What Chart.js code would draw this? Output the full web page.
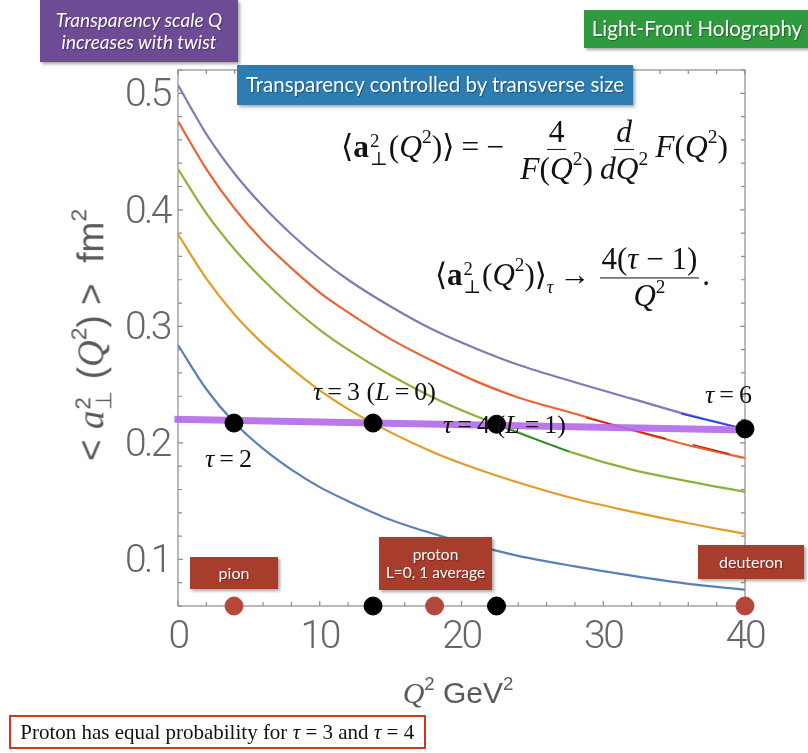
<!DOCTYPE html>
<html><head><meta charset="utf-8">
<script src="https://cdn.jsdelivr.net/npm/chart.js@4/dist/chart.umd.min.js"></script>
<style>
html,body{margin:0;padding:0;background:#fff;}
#wrap{position:relative;width:808px;height:753px;overflow:hidden;}
#c{position:absolute;left:0;top:0;}
.ann{position:absolute;white-space:nowrap;transform:translateY(-50%);}
.math{font-family:"Liberation Serif","DejaVu Serif",serif;color:#111;}
.frac{display:inline-flex;flex-direction:column;align-items:center;vertical-align:middle;line-height:1.05;margin:0 3px;}
.frac>span:first-child{border-bottom:1.3px solid #111;padding:0 2px 1px 2px;}
.frac>span:last-child{padding-top:2px;}
.ss{display:inline-flex;flex-direction:column;font-size:0.6em;line-height:0.95;vertical-align:middle;margin:0 1px;}
sup{font-size:0.62em;vertical-align:0.72em;line-height:0;}
.op{margin:0 7px;}
.box{position:absolute;color:#fff;font-family:Lato,"Open Sans",sans-serif;box-shadow:2px 2px 3px rgba(0,0,0,0.35);display:flex;flex-direction:column;align-items:center;justify-content:center;text-align:center;text-shadow:1px 1px 1px rgba(0,0,0,0.35);line-height:1.15;}
.gray{color:#5a5a5a;}
</style></head>
<body><div id="wrap">
<canvas id="c" width="808" height="753"></canvas>

<div class="box" style="left:40px;top:0;width:198px;height:62px;background:#6e4b95;font-style:italic;font-size:19px;">Transparency scale Q<br>increases with twist</div>
<div class="box" style="left:584px;top:10px;width:226px;height:38px;background:#2f9a3e;font-size:20.5px;">Light-Front Holography</div>
<div class="box" style="left:237px;top:65px;width:396px;height:40px;background:#2d7db2;font-size:20.5px;">Transparency controlled by transverse size</div>
<div class="box" style="left:190px;top:557px;width:88px;height:32px;background:#a83c2d;font-size:16px;">pion</div>
<div class="box" style="left:379px;top:537px;width:113px;height:53px;background:#a83c2d;font-size:15.5px;">proton<br>L=0, 1 average</div>
<div class="box" style="left:698px;top:545px;width:106px;height:34px;background:#a83c2d;font-size:16px;">deuteron</div>

<div class="ann math" style="left:341px;top:150px;font-size:31.5px;">⟨<b>a</b><span class="ss"><span>2</span><span>⊥</span></span>(<i>Q</i><sup>2</sup>)⟩<span class="op">=</span>−<span class="frac" style="margin-left:16px"><span>4</span><span><i>F</i>(<i>Q</i><sup>2</sup>)</span></span><span class="frac" style="margin-left:4px"><span><i>d</i></span><span><i>dQ</i><sup>2</sup></span></span><span style="margin-left:4px"><i>F</i>(<i>Q</i><sup>2</sup>)</span></div>
<div class="ann math" style="left:435px;top:278px;font-size:31px;">⟨<b>a</b><span class="ss"><span>2</span><span>⊥</span></span>(<i>Q</i><sup>2</sup>)⟩<span style="font-size:0.6em;vertical-align:-0.4em"><i>τ</i></span><span class="op" style="margin:0 6px">→</span><span class="frac"><span>4(<i>τ</i> − 1)</span><span><i>Q</i><sup>2</sup></span></span>.</div>

<div class="ann math" style="left:205px;top:459px;font-size:26px;"><i>τ</i><span class="op" style="margin:0 5px">=</span>2</div>
<div class="ann math" style="left:313px;top:392px;font-size:26px;"><i>τ</i><span class="op" style="margin:0 5px">=</span>3 (<i>L</i><span class="op" style="margin:0 5px">=</span>0)</div>
<div class="ann math" style="left:443px;top:425px;font-size:26px;"><i>τ</i><span class="op" style="margin:0 5px">=</span>4 (<i>L</i><span class="op" style="margin:0 5px">=</span>1)</div>
<div class="ann math" style="left:705px;top:395px;font-size:26px;"><i>τ</i><span class="op" style="margin:0 5px">=</span>6</div>

<div class="gray" style="position:absolute;left:92px;top:335px;transform:translate(-50%,-50%) rotate(-90deg);white-space:nowrap;font-family:'Liberation Sans',sans-serif;font-size:37px;">&lt; <i style="font-family:'Liberation Serif',serif">a</i><span class="ss"><span>2</span><span>⊥</span></span> (<i style="font-family:'Liberation Serif',serif">Q</i><sup>2</sup>) &gt;&nbsp; fm<sup>2</sup></div>
<div class="gray" style="position:absolute;left:458px;top:693px;transform:translate(-50%,-50%);white-space:nowrap;font-family:'Liberation Sans',sans-serif;font-size:30px;"><i style="font-family:'Liberation Serif',serif">Q</i><sup>2</sup> GeV<sup>2</sup></div>

<div style="position:absolute;left:9px;top:715px;width:409px;height:30px;border:2px solid #d2361f;font-family:'Liberation Serif',serif;font-size:21px;color:#111;line-height:30px;padding-left:4px;white-space:nowrap;">&nbsp;Proton has equal probability for <i>τ</i> = 3 and <i>τ</i> = 4</div>
</div>

<script>
// ---- data ----
const qGrid = [0, 2, 4, 6, 8, 10, 12, 15, 18, 21, 24, 28, 32, 36, 40];
const tau2 = [0.284, 0.246, 0.217, 0.195, 0.177, 0.162, 0.150, 0.134, 0.122, 0.112, 0.103, 0.094, 0.086, 0.079, 0.074];
const tau3 = [0.379, 0.341, 0.310, 0.285, 0.264, 0.245, 0.229, 0.209, 0.192, 0.178, 0.166, 0.152, 0.141, 0.131, 0.122];
const tau4 = [0.435, 0.397, 0.366, 0.340, 0.317, 0.297, 0.280, 0.258, 0.239, 0.223, 0.209, 0.191, 0.177, 0.167, 0.158];
const tau5 = [0.476, 0.435, 0.401, 0.373, 0.350, 0.329, 0.312, 0.289, 0.270, 0.253, 0.239, 0.225, 0.211, 0.198, 0.187];
const tau6 = [0.507, 0.465, 0.431, 0.403, 0.379, 0.358, 0.340, 0.317, 0.297, 0.281, 0.267, 0.252, 0.238, 0.224, 0.212];

const markQ = [-0.25, 40];            // hand-drawn highlighter line
const markA = [0.2203, 0.2111];
const tauDotQ = [3.95, 13.76, 22.47, 40];
const tauDotA = [0.217, 0.217, 0.216, 0.212];
const hadronQ = [3.95, 18.1, 40];     // pion, proton, deuteron
const axisDotQ = [13.76, 22.47];
const axisLevel = 0.06;
const blueStrokeQ = [35.5, 39.4], blueStrokeA = [0.225, 0.2135];
const greenStrokeQ = [22.9, 27.6], greenStrokeA = [0.2135, 0.1925];
const redStrokeQ = [28.8, 34.45, null, 36.3, 38.9], redStrokeA = [0.2215, 0.2035, null, 0.1985, 0.1905];

const xMajorTicks = [0, 10, 20, 30, 40];
const yMajorTicks = [0.1, 0.2, 0.3, 0.4, 0.5];

const pts = (xs, ys) => xs.map((x, i) => (x === null ? {x: NaN, y: NaN} : {x, y: ys[i]}));
const curve = (ys, color) => ({
  data: pts(qGrid, ys), showLine: true, borderColor: color, borderWidth: 2.2,
  pointRadius: 0, cubicInterpolationMode: 'monotone', order: 5
});
const stroke = (xs, ys, color) => ({
  data: pts(xs, ys), showLine: true, borderColor: color, borderWidth: 1.4, pointRadius: 0, order: 4, spanGaps: false
});

const spacingPlugin = {
  id: 'spacing',
  beforeUpdate(chart) { chart.ctx.letterSpacing = '-2.5px'; },
  beforeDraw(chart) { chart.ctx.letterSpacing = '-2.5px'; }
};

const framePlugin = {
  id: 'frame',
  beforeDatasetsDraw(chart) {
    const {ctx, chartArea: a, scales: {x, y}} = chart;
    ctx.save();
    ctx.strokeStyle = '#8c8c8c';
    ctx.lineWidth = 1.2;
    ctx.strokeRect(a.left, a.top, a.right - a.left, a.bottom - a.top);
    ctx.beginPath();
    x.ticks.forEach(t => {
      const p = x.getPixelForValue(t.value);
      const L = xMajorTicks.includes(t.value) ? 5 : 4;
      ctx.moveTo(p, a.bottom); ctx.lineTo(p, a.bottom - L);
      ctx.moveTo(p, a.top); ctx.lineTo(p, a.top + L);
    });
    y.ticks.forEach(t => {
      const p = y.getPixelForValue(t.value);
      const L = yMajorTicks.some(v => Math.abs(v - t.value) < 1e-6) ? 5 : 4;
      ctx.moveTo(a.left, p); ctx.lineTo(a.left + L, p);
      ctx.moveTo(a.right, p); ctx.lineTo(a.right - L, p);
    });
    ctx.stroke();
    ctx.restore();
  }
};

const tickFont = {family: "Roboto,'Liberation Sans',sans-serif", size: 39, weight: '300'};

new Chart(document.getElementById('c'), {
  type: 'scatter',
  data: {
    datasets: [
      curve(tau2, '#5b80b8'),
      curve(tau3, '#e39c26'),
      curve(tau4, '#8db23a'),
      curve(tau5, '#ec6332'),
      curve(tau6, '#8677b5'),
      stroke(blueStrokeQ, blueStrokeA, '#1a3cff'),
      stroke(greenStrokeQ, greenStrokeA, '#15862a'),
      stroke(redStrokeQ, redStrokeA, '#d01a0a'),
      {data: pts(markQ, markA), showLine: true, borderColor: 'rgba(180,108,232,0.92)', borderWidth: 7, pointRadius: 0, order: 3, clip: false},
      {data: pts(tauDotQ, tauDotA), pointRadius: 9, pointBackgroundColor: '#000', pointBorderColor: '#000', order: 1, clip: false},
      {data: axisDotQ.map(q => ({x: q, y: axisLevel})), pointRadius: 9, pointBackgroundColor: '#000', pointBorderColor: '#000', order: 1, clip: false},
      {data: hadronQ.map(q => ({x: q, y: axisLevel})), pointRadius: 9, pointBackgroundColor: '#b5463a', pointBorderColor: '#b5463a', order: 1, clip: false}
    ]
  },
  options: {
    responsive: false, animation: false, devicePixelRatio: 1,
    layout: {padding: {left: 0, right: 63, top: 70, bottom: 0}},
    plugins: {legend: {display: false}, tooltip: {enabled: false}},
    scales: {
      x: {
        type: 'linear', min: 0, max: 40,
        grid: {display: false, drawTicks: false}, border: {display: false},
        ticks: {stepSize: 2, autoSkip: false, maxRotation: 0, color: '#666', font: tickFont, padding: 9,
          callback: v => (xMajorTicks.includes(v) ? String(v) : '')},
        afterFit(s) { s.height = 753 - 606; }
      },
      y: {
        type: 'linear', min: 0.06, max: 0.52,
        grid: {display: false, drawTicks: false}, border: {display: false},
        ticks: {stepSize: 0.02, autoSkip: false, color: '#666', font: tickFont, padding: 8, labelOffset: 3,
          callback: v => (yMajorTicks.some(t => Math.abs(t - v) < 1e-6) ? v.toFixed(1) : '')},
        afterFit(s) { s.width = 178; }
      }
    }
  },
  plugins: [spacingPlugin, framePlugin]
});
</script>
</body></html>
